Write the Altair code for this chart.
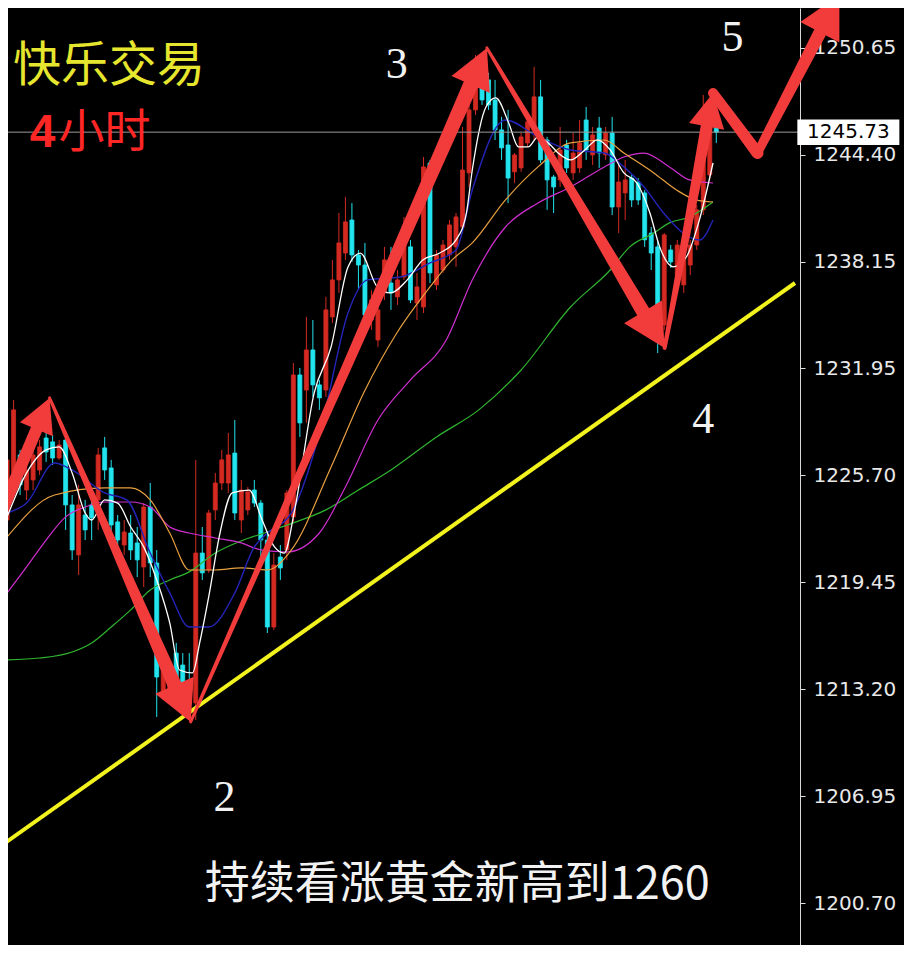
import altair as alt
import pandas as pd

# ---------------- data ----------------
opens = [1223.08, 1225.83, 1226.88, 1224.83, 1225.42, 1226.00, 1227.87, 1227.64, 1226.70, 1227.75,
         1223.96, 1221.04, 1223.37, 1223.96, 1224.25, 1227.29, 1226.12, 1222.97, 1221.62, 1222.32,
         1221.74, 1220.34, 1223.84, 1220.57, 1212.75, 1212.75, 1215.31, 1214.61, 1213.56, 1212.39,
         1221.15, 1220.16, 1223.67, 1225.24, 1225.24, 1226.99, 1223.08, 1223.67, 1224.83, 1224.07,
         1221.91, 1216.83, 1220.92, 1221.33, 1223.26, 1231.55, 1230.67, 1233.01, 1230.97, 1230.67,
         1234.94, 1237.10, 1238.67, 1240.60, 1238.56, 1237.97, 1234.76, 1233.59, 1236.34, 1236.92,
         1236.11, 1237.27, 1239.03, 1235.75, 1235.52, 1243.93, 1236.81, 1237.68, 1238.56, 1239.03,
         1240.19, 1243.35, 1247.03, 1248.89, 1248.78, 1247.61, 1245.86, 1244.98, 1243.41, 1243.64,
         1245.10, 1245.86, 1247.79, 1245.27, 1243.11, 1242.94, 1244.98, 1243.35, 1243.64, 1246.44,
         1244.40, 1245.97, 1244.40, 1245.68, 1241.36, 1242.18, 1243.05, 1242.82, 1242.18, 1239.84,
         1239.03, 1234.47, 1238.85, 1237.39, 1236.81, 1237.97, 1239.14, 1241.19, 1243.23, 1246.10]
highs = [1227.35, 1230.09, 1227.17, 1226.59, 1227.46, 1227.75, 1228.51, 1228.05, 1227.75, 1228.22,
         1224.54, 1225.13, 1224.25, 1224.54, 1227.29, 1227.93, 1226.59, 1223.37, 1223.08, 1223.37,
         1222.67, 1224.07, 1225.24, 1221.33, 1215.31, 1214.91, 1215.90, 1215.31, 1215.31, 1226.59,
         1222.67, 1223.67, 1225.83, 1227.17, 1228.16, 1228.92, 1225.42, 1225.01, 1225.42, 1224.25,
         1222.32, 1221.15, 1221.62, 1224.83, 1232.25, 1231.96, 1234.94, 1234.76, 1231.26, 1236.11,
         1238.27, 1241.01, 1241.95, 1241.59, 1238.85, 1239.26, 1236.51, 1235.93, 1239.03, 1239.03,
         1237.68, 1240.78, 1239.43, 1237.51, 1244.28, 1244.11, 1238.85, 1239.43, 1240.60, 1241.01,
         1246.03, 1247.61, 1250.24, 1249.19, 1249.19, 1248.78, 1246.62, 1247.03, 1244.51, 1245.68,
         1246.44, 1249.54, 1248.78, 1245.45, 1243.23, 1246.03, 1245.28, 1245.68, 1246.44, 1247.20,
         1246.03, 1246.62, 1246.03, 1246.62, 1243.81, 1244.11, 1243.23, 1243.05, 1242.35, 1240.19,
         1239.43, 1239.84, 1239.14, 1239.43, 1238.67, 1239.43, 1241.48, 1247.90, 1246.44, 1246.56]
lows = [1222.50, 1225.24, 1224.54, 1224.25, 1224.83, 1225.71, 1226.47, 1226.29, 1226.59, 1222.50,
        1220.75, 1219.87, 1221.91, 1221.91, 1222.50, 1225.42, 1222.21, 1221.45, 1221.04, 1220.75,
        1219.75, 1219.17, 1219.75, 1211.58, 1212.57, 1212.57, 1212.75, 1212.75, 1211.87, 1211.40,
        1219.58, 1219.99, 1223.08, 1224.83, 1224.66, 1223.08, 1222.32, 1223.37, 1223.84, 1220.75,
        1216.48, 1216.66, 1219.58, 1220.75, 1222.91, 1227.93, 1228.75, 1230.27, 1229.51, 1230.27,
        1234.59, 1236.34, 1238.27, 1238.15, 1236.51, 1234.76, 1234.18, 1233.19, 1235.93, 1235.35,
        1235.64, 1237.10, 1235.75, 1234.76, 1235.17, 1236.92, 1236.51, 1237.51, 1238.27, 1237.86,
        1239.84, 1242.53, 1246.73, 1247.32, 1247.03, 1245.27, 1244.11, 1241.59, 1242.76, 1243.41,
        1244.87, 1245.27, 1243.93, 1241.19, 1241.01, 1242.53, 1243.35, 1242.94, 1243.35, 1244.11,
        1243.81, 1243.64, 1244.11, 1240.89, 1239.84, 1240.60, 1241.36, 1241.48, 1239.03, 1237.68,
        1232.83, 1234.18, 1237.80, 1236.81, 1236.34, 1237.39, 1238.85, 1240.89, 1242.94, 1245.10]
closes = [1226.59, 1229.51, 1225.13, 1226.00, 1226.88, 1227.35, 1227.05, 1226.70, 1227.46, 1223.96,
          1221.33, 1223.96, 1222.50, 1223.20, 1226.88, 1226.00, 1222.79, 1221.91, 1222.38, 1221.33,
          1220.75, 1223.84, 1220.57, 1213.91, 1214.91, 1214.50, 1213.33, 1213.45, 1212.75, 1221.15,
          1219.99, 1223.49, 1225.24, 1226.59, 1226.88, 1223.49, 1224.83, 1224.72, 1224.07, 1221.91,
          1216.83, 1220.45, 1220.28, 1224.66, 1231.55, 1228.75, 1233.01, 1230.97, 1230.21, 1235.35,
          1237.10, 1239.26, 1240.49, 1238.56, 1237.97, 1235.05, 1235.93, 1235.35, 1238.27, 1236.34,
          1237.10, 1239.84, 1235.93, 1236.69, 1243.70, 1237.51, 1238.56, 1239.14, 1240.31, 1240.78,
          1243.52, 1247.03, 1248.78, 1247.61, 1247.32, 1245.86, 1244.81, 1243.05, 1244.40, 1245.45,
          1246.33, 1247.79, 1244.11, 1242.94, 1242.53, 1244.69, 1243.64, 1244.51, 1245.10, 1244.69,
          1245.57, 1244.51, 1245.68, 1241.36, 1242.82, 1242.94, 1241.77, 1241.77, 1239.44, 1238.67,
          1234.76, 1239.73, 1238.15, 1239.14, 1238.38, 1239.14, 1241.19, 1244.11, 1245.97, 1245.73]

ma_white_i = [0, 3, 6, 8, 10, 12, 13, 15, 17, 19, 21, 23, 25, 26.5, 28.5, 29.6, 31.1, 32.6, 34.6, 37.2,
              39.2, 41.1, 42.6, 44.2, 47.2, 49.8, 52.4, 54.3, 56.9, 58.9, 61.5, 63.9, 66.5, 69, 70.6,
              71.5, 73.6, 75.1, 77.1, 78.6, 80.1, 81.6, 83.2, 84.7, 86.6, 88.8, 90.7, 92.7, 94.8, 96.8,
              98.8, 100.3, 102.4, 104.4, 106.4, 108.5]
ma_white_v = [1223.26, 1225.83, 1227.17, 1227.35, 1225.83, 1223.49, 1223.08, 1224.25, 1224.07, 1222.67,
              1221.51, 1219.58, 1217.07, 1214.32, 1214.15, 1215.90, 1218.82, 1222.09, 1224.66, 1224.83,
              1223.08, 1221.51, 1221.15, 1223.67, 1230.50, 1233.19, 1237.86, 1238.67, 1236.69, 1236.34,
              1237.10, 1238.27, 1238.67, 1239.44, 1241.01, 1243.52, 1247.20, 1247.73, 1246.27, 1244.87,
              1244.87, 1245.45, 1245.10, 1244.51, 1244.11, 1244.69, 1245.28, 1244.69, 1243.35, 1242.76,
              1241.01, 1239.03, 1237.86, 1238.44, 1240.60, 1243.93]
ma_blue_i = [0, 3, 7.3, 10, 15, 18.4, 22, 25, 28, 31, 35, 38, 40, 43.7, 48.3, 52.4, 55.4, 60.4, 65, 69,
             71.5, 76.6, 81.6, 86.6, 91.8, 94.8, 97.9, 100.9, 103.9, 106.4, 108.5]
ma_blue_v = [1223.49, 1224.07, 1226.41, 1226.00, 1224.66, 1224.25, 1221.15, 1218.82, 1216.83, 1216.83,
             1218.82, 1221.51, 1222.32, 1223.49, 1228.51, 1235.17, 1237.10, 1237.27, 1238.09, 1238.85,
             1242.35, 1246.44, 1245.45, 1244.69, 1244.51, 1243.70, 1242.53, 1241.01, 1239.84, 1239.43,
             1240.60]
ma_orange_i = [0, 7.3, 15, 19, 22, 25, 28, 32, 36, 40, 43.7, 49.8, 54.8, 59.9, 65, 68.4, 71.5, 76.6,
               81.6, 86.6, 91.8, 94.8, 99.4, 102.9, 105.9, 108.5]
ma_orange_v = [1222.09, 1224.54, 1224.95, 1224.95, 1224.25, 1222.32, 1220.16, 1220.16, 1220.28, 1220.16,
               1221.33, 1226.18, 1230.50, 1234.00, 1236.69, 1238.27, 1239.26, 1241.77, 1243.70, 1245.10,
               1245.27, 1244.51, 1243.35, 1242.35, 1241.77, 1241.65]
ma_magenta_i = [0, 3, 6, 9, 12, 15, 19, 22, 25, 28, 32, 36, 39, 43, 48, 52, 57, 62, 67.5, 71.5, 76.6,
                81.6, 86.6, 91.8, 94.8, 97.9, 101.8, 104.9, 108.5]
ma_magenta_v = [1218.82, 1220.34, 1221.91, 1223.26, 1223.84, 1224.13, 1224.13, 1223.84, 1222.67, 1222.32,
                1222.03, 1221.74, 1221.33, 1221.21, 1222.32, 1225.01, 1228.92, 1231.26, 1233.59, 1237.10,
                1240.19, 1241.59, 1242.53, 1243.70, 1244.28, 1244.51, 1243.70, 1242.94, 1242.76]
ma_green_i = [0, 5, 10, 13, 16, 19, 22, 25, 28, 32, 36, 40, 44, 49, 54, 59, 66, 72.5, 79, 86.6, 92.7,
              95.7, 99.4, 101.8, 104.9, 108.5]
ma_green_v = [1214.91, 1215.02, 1215.37, 1215.90, 1216.83, 1217.83, 1218.99, 1219.58, 1220.05, 1221.15,
              1221.86, 1222.38, 1222.91, 1223.67, 1224.83, 1226.00, 1227.93, 1229.51, 1231.84, 1235.52,
              1237.68, 1239.03, 1239.84, 1240.43, 1240.78, 1241.65]

trend_i = [-0.3, 121.1]
trend_v = [1204.22, 1236.92]

# wave arrows: segment id, start/end position, start/end width
arrow_seg = ["a1", "a1", "a2", "a2", "a3", "a3", "a4", "a4", "a5", "a5", "a6", "a6", "a7", "a7"]
arrow_i = [-1.06, 4.52, 6.53, 25.77, 28.22, 71.27, 73.75, 97.78, 101.06, 107.53, 108.5, 115.33, 115.33, 124.96]
arrow_v = [1223.37, 1228.37, 1230.21, 1213.42, 1211.29, 1248.52, 1250.65, 1235.23, 1233.13, 1246.07,
           1248.02, 1244.51, 1244.51, 1251.57]
arrow_w = [12, 12, 3, 14, 3, 15, 3, 14, 4, 12, 10, 12, 9, 13]

head_i = [6.53, 28.22, 73.75, 101.06, 108.5, 127.92]
head_v = [1230.21, 1211.29, 1250.65, 1233.13, 1248.02, 1253.74]
head_angle = [22.8, 156.2, 24.0, 149.0, 10.9, 27.7]
head_size = [1156, 1600, 1600, 1764, 1156, 1764]

wave_labels = ["3", "5", "4", "2"]
wave_i = [59.9, 111.5, 107.0, 33.4]
wave_v = [1249.65, 1251.23, 1228.92, 1206.85]

ticks = [1200.70, 1206.95, 1213.20, 1219.45, 1225.70, 1231.95, 1238.15, 1244.40, 1250.65]
last_price = 1245.73

# ---------------- styling ----------------
RED = "#d42a22"
CYAN = "#22e4ee"
ARROW = "#f23c3c"

xs = alt.Scale(domain=[0.91, 121.1], nice=False, zero=False)
ys = alt.Scale(domain=[1198.26, 1252.98], nice=False, zero=False)
dir_scale = alt.Scale(domain=["up", "down"], range=[RED, CYAN])

yaxis = alt.Axis(orient="right", values=ticks, format=".2f", title=None, grid=False,
                 labelColor="#e8e8e8", labelFont="DejaVu Sans", labelFontSize=20,
                 labelPadding=8, tickColor="#e0e0e0", tickSize=5, domainColor="#d8d8d8",
                 domainWidth=1, labelBaseline="middle", labelOverlap=False)


def X(field):
    return alt.X(field, scale=xs, axis=None)


def Y(field):
    return alt.Y(field, scale=ys, axis=yaxis)


candles = pd.DataFrame({"bar": list(range(len(opens))), "open": opens, "high": highs,
                        "low": lows, "close": closes})
candles["dir"] = ["up" if c >= o else "down" for o, c in zip(opens, closes)]

wick = alt.Chart(candles).mark_rule(strokeWidth=1, clip=True).encode(
    x=X("bar:Q"), y=Y("low:Q"), y2="high:Q",
    color=alt.Color("dir:N", scale=dir_scale, legend=None),
)
body = alt.Chart(candles).mark_bar(size=4, strokeWidth=0.8, clip=True).encode(
    x=X("bar:Q"), y=Y("open:Q"), y2="close:Q",
    color=alt.Color("dir:N", scale=dir_scale, legend=None),
    stroke=alt.Stroke("dir:N", scale=dir_scale, legend=None),
)


def ma_layer(ii, vv, col, w=1.2):
    return alt.Chart(pd.DataFrame({"i": ii, "v": vv})).mark_line(
        color=col, strokeWidth=w, interpolate="monotone", clip=True).encode(x=X("i:Q"), y=Y("v:Q"))


mas = [
    ma_layer(ma_green_i, ma_green_v, "#2fb52f"),
    ma_layer(ma_magenta_i, ma_magenta_v, "#d02fd0"),
    ma_layer(ma_orange_i, ma_orange_v, "#e8a040"),
    ma_layer(ma_blue_i, ma_blue_v, "#2424b8", 1.4),
    ma_layer(ma_white_i, ma_white_v, "#ffffff", 1.3),
]

trend = alt.Chart(pd.DataFrame({"i": trend_i, "v": trend_v})).mark_line(
    color="#f2f21e", strokeWidth=4, clip=True).encode(x=X("i:Q"), y=Y("v:Q"))

price_line = alt.Chart(pd.DataFrame({"p": [last_price]})).mark_rule(
    color="#9c9c9c", strokeWidth=1).encode(y=Y("p:Q"))

arrows = alt.Chart(pd.DataFrame({"seg": arrow_seg, "i": arrow_i, "v": arrow_v, "w": arrow_w})).mark_trail(
    color=ARROW, clip=False).encode(
    x=X("i:Q"), y=Y("v:Q"),
    size=alt.Size("w:Q", scale=None, legend=None),
    detail="seg:N",
)

heads = alt.Chart(pd.DataFrame({"i": head_i, "v": head_v, "ang": head_angle, "sz": head_size})).mark_point(
    shape="M0,0L1.05,2L-1.05,2Z", filled=True, color=ARROW, opacity=1, strokeWidth=0, clip=False).encode(
    x=X("i:Q"), y=Y("v:Q"),
    angle=alt.Angle("ang:Q", scale=None),
    size=alt.Size("sz:Q", scale=None, legend=None),
)

waves = alt.Chart(pd.DataFrame({"t": wave_labels, "i": wave_i, "v": wave_v})).mark_text(
    font="Liberation Serif", fontSize=44, color="#f2f2f2", align="center", baseline="middle",
    clip=False).encode(x=X("i:Q"), y=Y("v:Q"), text="t:N")


def label(txt, i, v, **kw):
    return alt.Chart(pd.DataFrame({"t": [txt], "i": [i], "v": [v]})).mark_text(
        baseline="middle", clip=False, **kw).encode(x=X("i:Q"), y=Y("v:Q"), text="t:N")


title1 = label("快乐交易", 0.91, 1249.54, font="Noto Sans CJK SC", fontSize=48,
               color="#e6e62e", align="left")
title2a = label("4", 3.49, 1245.68, font="Liberation Sans", fontSize=46, fontWeight="bold",
                color="#ff2626", align="left")
title2b = label("小时", 7.89, 1245.68, font="Noto Sans CJK SC", fontSize=46,
                color="#ff2626", align="left")
bottom = label("持续看涨黄金新高到1260", 69.2, 1201.77, font="Noto Sans CJK SC", fontSize=45,
               color="#f2f2f2", align="center")

box = alt.Chart(pd.DataFrame({"i": [129.3], "v": [last_price]})).mark_point(
    shape="M-2,-0.5L2,-0.5L2,0.5L-2,0.5Z", filled=True, color="#ffffff", opacity=1,
    strokeWidth=0, size=2601, clip=False).encode(x=X("i:Q"), y=Y("v:Q"))
box_text = label("1245.73", 129.3, last_price, font="DejaVu Sans", fontSize=20,
                 color="#000000", align="center")

chart = alt.layer(
    wick, body, *mas, trend, price_line, arrows, heads, waves,
    title1, title2a, title2b, bottom, box, box_text,
).properties(
    width=792, height=937,
    autosize=alt.AutoSizeParams(type="none"),
    padding={"left": 0, "top": 0, "right": 104, "bottom": 0},
    background="#000000",
).configure_view(strokeWidth=0)

chart.save("out.html", embed_options={"renderer": "svg", "actions": False})
